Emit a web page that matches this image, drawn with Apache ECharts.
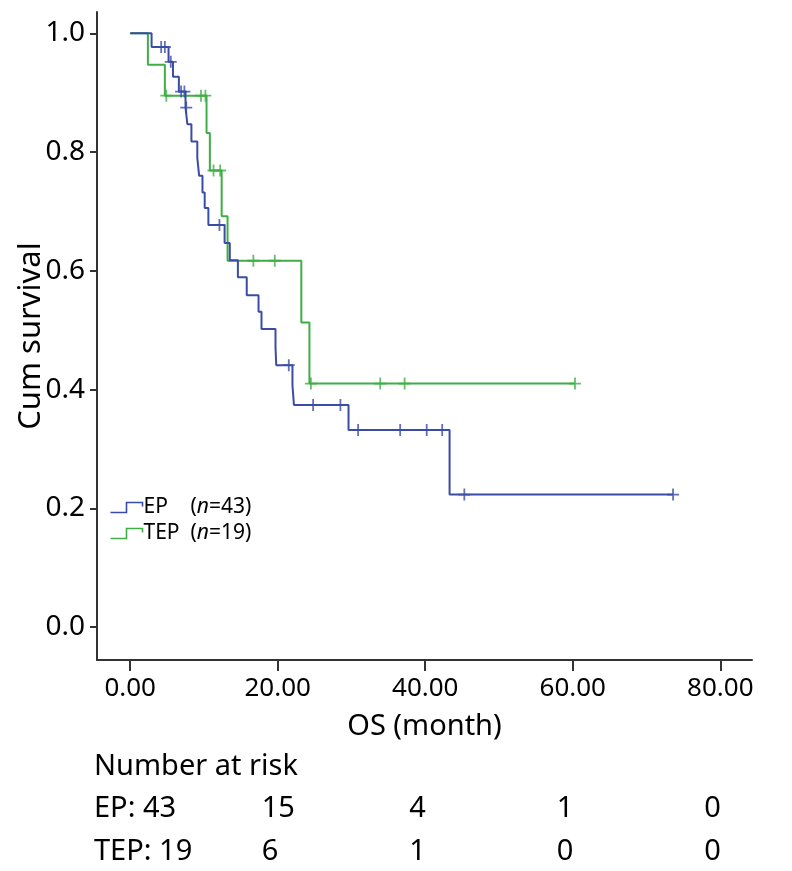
<!DOCTYPE html>
<html>
<head>
<meta charset="utf-8">
<script src="https://cdn.jsdelivr.net/npm/echarts@6/dist/echarts.min.js"></script>
<style>html,body{margin:0;padding:0;background:#fff;}#c{width:792px;height:871px;}</style>
</head>
<body>
<div id="c"></div>
<script>
// ---- data ----
const xTicks = [0, 20, 40, 60, 80];
const yTicks = [0, 0.2, 0.4, 0.6, 0.8, 1.0];

const epName = 'EP', epN = 43;
const epTimes = [0, 2.9, 5.2, 5.8, 6.6, 7.5, 7.75, 8.3, 9.1, 9.35, 9.8, 10.1, 10.6, 12.8, 13.5, 14.6, 15.8, 17.4, 17.8, 19.7, 19.8, 22.0, 22.2, 29.6, 43.3];
const epSurv  = [1.0, 0.977, 0.952, 0.927, 0.902, 0.875, 0.847, 0.818, 0.790, 0.760, 0.732, 0.706, 0.677, 0.647, 0.618, 0.589, 0.559, 0.531, 0.502, 0.471, 0.441, 0.407, 0.374, 0.332, 0.223];
const epEnd = 73.6;
const epCensor = [4.2, 4.7, 5.5, 6.9, 7.35, 7.6, 12.1, 21.5, 24.8, 28.5, 30.9, 36.6, 40.2, 42.3, 45.3, 73.6];

const tepName = 'TEP', tepN = 19;
const tepTimes = [0, 2.4, 4.7, 10.35, 10.8, 12.4, 13.2, 23.2, 24.3];
const tepSurv  = [1.0, 0.947, 0.895, 0.832, 0.769, 0.692, 0.617, 0.513, 0.410];
const tepEnd = 60.3;
const tepCensor = [4.9, 9.6, 10.2, 11.3, 12.2, 16.7, 19.6, 24.5, 33.9, 37.2, 60.3];

const riskTimes = [0, 20, 40, 60, 80];
const riskEP  = [43, 15, 4, 1, 0];
const riskTEP = [19, 6, 1, 0, 0];

// ---- build ----
const blue = '#3a4ca6', green = '#3fae44';
function stepData(times, surv, end) {
  const d = times.map((t, i) => [t, surv[i]]);
  d.push([end, surv[surv.length - 1]]);
  return d;
}
function survAt(times, surv, t) {
  let s = surv[0];
  for (let i = 0; i < times.length; i++) if (times[i] <= t) s = surv[i];
  return s;
}
const plus = 'path://M5,0 L5,10 M0,5 L10,5';
const FONT = 'Noto Sans';

const chart = echarts.init(document.getElementById('c'), null, {renderer: 'canvas'});
const axisColor = '#333333';
chart.setOption({
  animation: false,
  textStyle: {fontFamily: FONT, color: '#000'},
  grid: {left: 97, right: 40, top: 12, bottom: 211, containLabel: false, outerBoundsMode: 'none'},
  xAxis: {
    type: 'value', min: -4.5, max: 84.3,
    name: 'OS (month)', nameLocation: 'middle', nameGap: 52, nameMoveOverlap: false,
    nameTextStyle: {fontSize: 29, color: '#000', fontFamily: FONT},
    axisLine: {show: true, onZero: false, lineStyle: {color: axisColor, width: 2}},
    axisTick: {show: true, customValues: xTicks, length: 11, lineStyle: {color: axisColor, width: 2}},
    axisLabel: {customValues: xTicks, formatter: v => v.toFixed(2), fontSize: 26, color: '#000', margin: 16, fontFamily: FONT},
    splitLine: {show: false}
  },
  yAxis: {
    type: 'value', min: -0.0556, max: 1.036,
    name: 'Cum survival', nameLocation: 'middle', nameGap: 50, nameMoveOverlap: false,
    nameTextStyle: {fontSize: 31, color: '#000', fontFamily: FONT},
    axisLine: {show: true, onZero: false, lineStyle: {color: axisColor, width: 2}},
    axisTick: {show: true, customValues: yTicks, length: 7, lineStyle: {color: axisColor, width: 2}},
    axisLabel: {customValues: yTicks, formatter: v => v.toFixed(1), fontSize: 28, color: '#000', margin: 12, fontFamily: FONT},
    splitLine: {show: false}
  },
  legend: {
    orient: 'vertical', left: 108, top: 497, itemGap: 5, padding: 0,
    itemWidth: 32, itemHeight: 10,
    icon: 'path://M0,10 L16,10 L16,0 L32,0 L32,4',
    data: [
      {name: epName, itemStyle: {color: 'none', borderColor: blue, borderWidth: 1.6}},
      {name: tepName, itemStyle: {color: 'none', borderColor: green, borderWidth: 1.6}}
    ],
    formatter: name => name === epName ? '{a|' + epName + '}({i|n}=' + epN + ')' : '{a|' + tepName + '}({i|n}=' + tepN + ')',
    textStyle: {
      fontSize: 21, color: '#000', fontFamily: FONT, padding: [0, 0, 0, -4],
      rich: {
        a: {fontSize: 21, width: 47, fontFamily: FONT, color: '#000'},
        i: {fontSize: 21, fontStyle: 'italic', fontFamily: FONT, color: '#000'}
      }
    }
  },
  series: [
    {name: epName, type: 'line', step: 'end', data: stepData(epTimes, epSurv, epEnd), showSymbol: false,
     lineStyle: {color: blue, width: 2}, itemStyle: {color: blue}, z: 3},
    {name: tepName, type: 'line', step: 'end', data: stepData(tepTimes, tepSurv, tepEnd), showSymbol: false,
     lineStyle: {color: green, width: 2}, itemStyle: {color: green}, z: 2},
    {name: epName, type: 'scatter', symbol: plus, symbolSize: [12, 12],
     data: epCensor.map(t => [t, survAt(epTimes, epSurv, t)]),
     itemStyle: {color: 'transparent', borderColor: blue, borderWidth: 1.8}, z: 4},
    {name: tepName, type: 'scatter', symbol: plus, symbolSize: [12, 12],
     data: tepCensor.map(t => [t, survAt(tepTimes, tepSurv, t)]),
     itemStyle: {color: 'transparent', borderColor: green, borderWidth: 1.8}, z: 3}
  ]
});

// ---- number at risk table ----
const tableFont = {fontSize: 29, fontFamily: FONT, fill: '#000'};
const g = [];
g.push({type: 'text', left: 94, top: 752, style: Object.assign({text: 'Number at risk'}, tableFont)});
const rows = [[epName, riskEP, 794], [tepName, riskTEP, 837]];
rows.forEach(([nm, vals, y]) => {
  vals.forEach((v, i) => {
    if (i === 0) {
      g.push({type: 'text', left: 94, top: y, style: Object.assign({text: nm + ': ' + v}, tableFont)});
    } else {
      const px = chart.convertToPixel({xAxisIndex: 0}, riskTimes[i]);
      g.push({type: 'text', left: px - 16, top: y, style: Object.assign({text: String(v)}, tableFont)});
    }
  });
});
chart.setOption({graphic: g});
</script>
</body>
</html>
